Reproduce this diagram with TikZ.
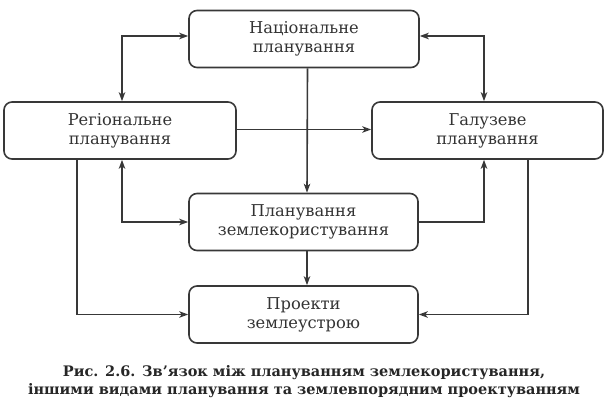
\documentclass[tikz,border=0pt]{standalone}
\usepackage{fontspec}
\setmainfont{DejaVu Serif}
\usetikzlibrary{arrows.meta,calc}

\begin{document}
\begin{tikzpicture}[x=1pt,y=-1pt,
  line width=1.6pt,color=black!78,
  >={Stealth[length=9pt,width=6.5pt,inset=2.5pt]},
  plbox/.style={draw,rounded corners=8pt,minimum width=230pt,minimum height=57pt,
    align=center,inner sep=0pt,text=black!80,font=\fontsize{16.3}{19}\selectfont}]
\useasboundingbox (0,0) rectangle (607,403);

\node[plbox] (nat) at (304,39) {Національне\\планування};
\node[plbox,minimum width=232pt] (reg) at (120,130.5) {Регіональне\\планування};
\node[plbox,minimum width=231pt] (gal) at (487.5,130.5) {Галузеве\\планування};
\node[plbox,minimum width=229pt] (plan) at (303.5,222) {Планування\\землекористування};
\node[plbox,minimum width=229pt] (proj) at (303.5,314.5) {Проекти\\землеустрою};

\draw[<->] ([yshift=3pt]nat.west) -| ([xshift=2pt]reg.north);
\draw[<->] ([yshift=3pt]nat.east) -| ([xshift=-3.5pt]gal.north);
\draw[->] ([xshift=3.5pt]nat.south) -- ([xshift=3.5pt]plan.north);
\draw[->] ([yshift=1pt]reg.east) -- ([yshift=1pt]gal.west);
\draw[<->] (plan.west) -| ([xshift=2pt]reg.south);
\draw[->] (plan.east) -| ([xshift=-3.5pt]gal.south);
\draw[->] ([xshift=-43pt]reg.south) |- (proj.west);
\draw[->] ([xshift=40.5pt]gal.south) |- (proj.east);
\draw[->] ([xshift=3.5pt]plan.south) -- ([xshift=3.5pt]proj.north);

\node[align=center,text=black!85,font=\bfseries\fontsize{14.5}{18}\selectfont] (cap) at (304,382)
  {Рис. 2.6. Зв'язок між плануванням землекористування,\\іншими видами планування та землевпорядним проектуванням};

\end{tikzpicture}
\end{document}
